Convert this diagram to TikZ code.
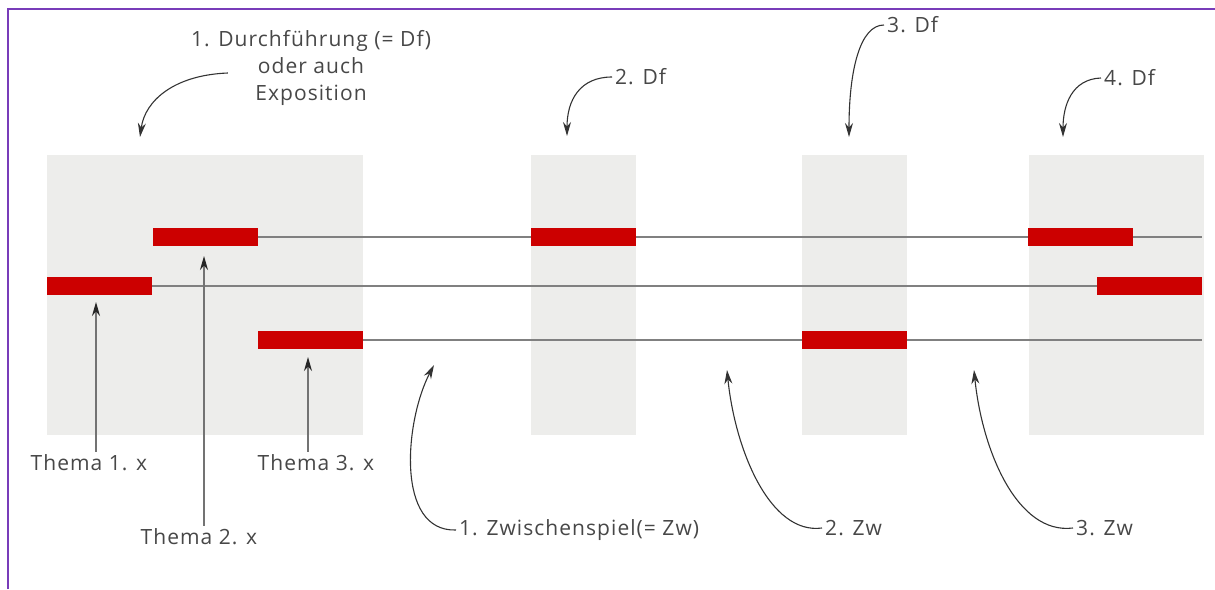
\documentclass[tikz,border=0pt]{standalone}
\usepackage{fontspec}
\setmainfont{Open Sans}[LetterSpace=5]
\usetikzlibrary{arrows.meta}
\definecolor{boxgray}{RGB}{237,237,235}
\definecolor{barred}{RGB}{204,0,0}
\definecolor{framepurple}{RGB}{120,60,185}
\begin{document}
\begin{tikzpicture} [
        x=1pt, y=-1pt,
        dfbox/.style={fill=boxgray, inner sep=0pt, anchor=north west, minimum height=280pt},
        bar/.style={fill=barred, inner sep=0pt, anchor=north west, minimum width=105pt, minimum height=18pt},
        voice/.style={draw=black!50, line width=1.5pt},
        note/.style={text=black!72, font=\fontsize{21}{27}\selectfont, inner sep=3pt, align=center},
        curly/.style={draw=black!80, line width=1.1pt, -{Stealth[length=14pt,width=8pt,inset=4.5pt]}},
        pointer/.style={draw=black!55, line width=1.4pt, -{Stealth[length=14pt,width=8pt,inset=4.5pt,color=black!85]}} ]
    \useasboundingbox (0,0) rectangle (1215,589);
    \draw[framepurple, line width=2pt] (8,589) -- (8,9) -- (1215,9);

    \node[dfbox, minimum width=316pt] (df1) at (47,155) {};
    \node[dfbox, minimum width=105pt] (df2) at (531,155) {};
    \node[dfbox, minimum width=105pt] (df3) at (802,155) {};
    \node[dfbox, minimum width=175pt] (df4) at (1029,155) {};

    \coordinate (endtop) at (1202,237);
    \coordinate (endmid) at (1202,286);
    \coordinate (endlow) at (1202,340);
    \draw[voice] (153,237) -- (endtop);
    \draw[voice] (47,286) -- (endmid);
    \draw[voice] (258,340) -- (endlow);

    \node[bar] (bar1) at (47,277) {};
    \node[bar] (bar2) at (153,228) {};
    \node[bar] (bar3) at (258,331) {};
    \node[bar] (bar4) at (531,228) {};
    \node[bar] (bar5) at (802,331) {};
    \node[bar] (bar6) at (1028,228) {};
    \node[bar] (bar7) at (1097,277) {};

    \node[note] (lab1) at (311,68) {1. Durchführung (= Df)\\oder auch\\Exposition};
    \node[note, anchor=west] (lab2) at (612,77) {2. Df};
    \node[note, anchor=west] (lab3) at (884,25) {3. Df};
    \node[note, anchor=west] (lab4) at (1101,78) {4. Df};
    \coordinate (tip1) at (140,137);
    \coordinate (tip2) at (567,136);
    \coordinate (tip3) at (849,137);
    \coordinate (tip4) at (1063,137);
    \draw[curly] ([xshift=40pt,yshift=-5pt]lab1.west) .. controls (175,75) and (145,100) .. (tip1);
    \draw[curly] (lab2.west) .. controls (580,77) and (567,100) .. (tip2);
    \draw[curly] (lab3.west) .. controls (860,25) and (849,70) .. (tip3);
    \draw[curly] (lab4.west) .. controls (1072,79) and (1063,105) .. (tip4);

    \node[note] (th1) at (89,463) {Thema 1. x};
    \node[note] (th2) at (199,537) {Thema 2. x};
    \node[note] (th3) at (316,463) {Thema 3. x};
    \coordinate (up1) at (96,302);
    \coordinate (up2) at (204,256);
    \coordinate (up3) at (308,357);
    \draw[pointer] (th1.north -| up1) -- (up1);
    \draw[pointer] (th2.north -| up2) -- (up2);
    \draw[pointer] (th3.north -| up3) -- (up3);

    \node[note, anchor=west] (zw1) at (456,530) {1. Zwischenspiel(= Zw)};
    \node[note, anchor=west] (zw2) at (822,528) {2. Zw};
    \node[note, anchor=west] (zw3) at (1073,528) {3. Zw};
    \coordinate (gap1) at (434,365);
    \coordinate (gap2) at (727,370);
    \coordinate (gap3) at (974,370);
    \draw[curly] (zw1.west) .. controls (395,532) and (405,420) .. (gap1);
    \draw[curly] (zw2.west) .. controls (770,535) and (735,450) .. (gap2);
    \draw[curly] (zw3.west) .. controls (1017,535) and (982,450) .. (gap3);
\end{tikzpicture}
\end{document}
